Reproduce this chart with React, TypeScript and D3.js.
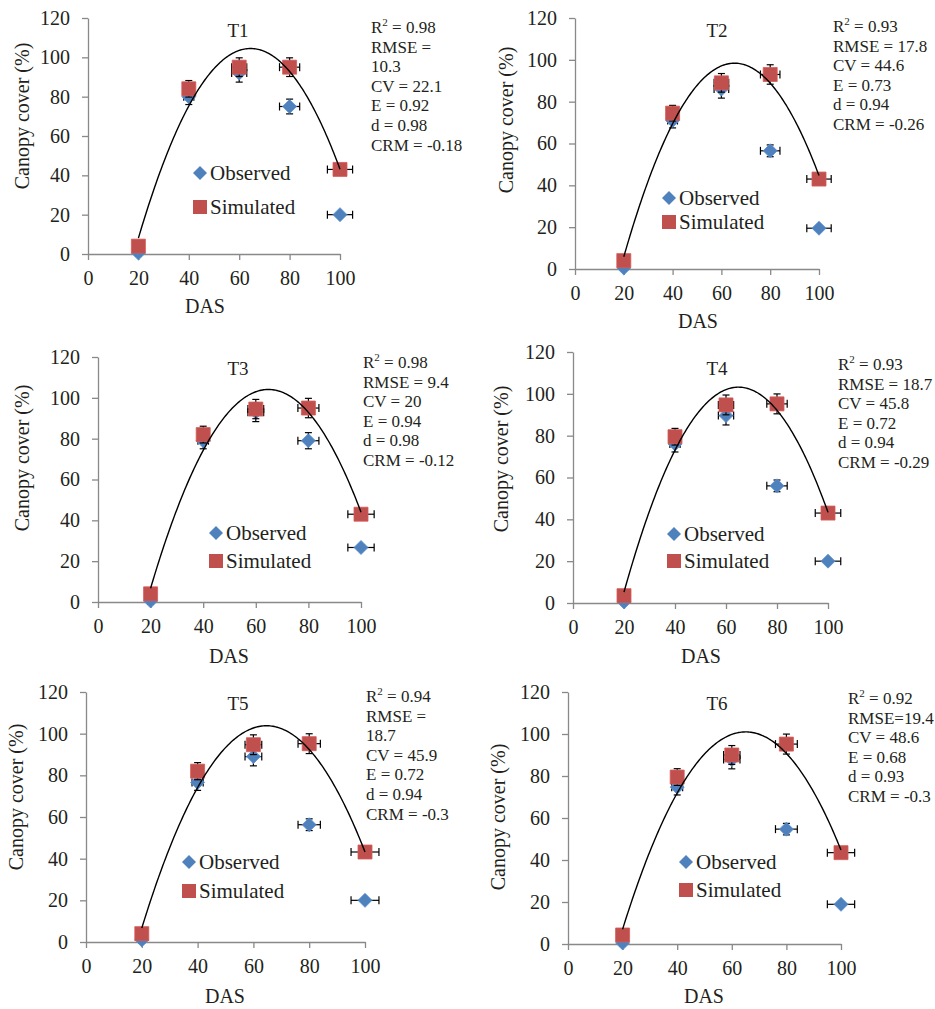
import { useEffect, useRef } from 'react'
import * as d3 from 'd3'

// days after sowing
const das = [20, 40, 60, 80, 100]
const panelNames = ['T1', 'T2', 'T3', 'T4', 'T5', 'T6']

const observedT1 = [0.5, 80, 92, 75, 20]
const observedT2 = [0.5, 71, 86, 56.5, 19.5]
const observedT3 = [0.5, 79, 93, 79, 26.7]
const observedT4 = [0.5, 76, 89.6, 56, 20]
const observedT5 = [1, 76.6, 89, 56.3, 20]
const observedT6 = [0.5, 74.7, 87.8, 54.7, 18.9]

const simulatedT1 = [4, 84, 95, 95, 43]
const simulatedT2 = [4, 74.5, 89, 93, 43]
const simulatedT3 = [4, 82, 94.5, 95, 43]
const simulatedT4 = [3.5, 79.5, 94.7, 95.2, 43]
const simulatedT5 = [4, 82, 94.7, 95.2, 43.2]
const simulatedT6 = [4.3, 79.5, 90, 95.2, 43.5]

// polynomial trend (vertex form)
const trendPeakX = [64.5, 65.4, 64.8, 64.9, 64.7, 65.1]
const trendPeakY = [104.5, 98.4, 104.1, 103.2, 103.8, 101]
const trendCurv = [-0.0487, -0.0449, -0.0485, -0.0486, -0.0486, -0.0462]

const statsT1 = ['R2| = 0.98', 'RMSE =', '10.3', 'CV = 22.1', 'E = 0.92', 'd = 0.98', 'CRM = -0.18']
const statsT2 = ['R2| = 0.93', 'RMSE = 17.8', 'CV = 44.6', 'E = 0.73', 'd = 0.94', 'CRM = -0.26']
const statsT3 = ['R2| = 0.98', 'RMSE = 9.4', 'CV = 20', 'E = 0.94', 'd = 0.98', 'CRM = -0.12']
const statsT4 = ['R2| = 0.93', 'RMSE = 18.7', 'CV = 45.8', 'E = 0.72', 'd = 0.94', 'CRM = -0.29']
const statsT5 = ['R2| = 0.94', 'RMSE =', '18.7', 'CV = 45.9', 'E = 0.72', 'd = 0.94', 'CRM = -0.3']
const statsT6 = ['R2| = 0.92', 'RMSE=19.4', 'CV = 48.6', 'E = 0.68', 'd = 0.93', 'CRM = -0.3']

const errorPercent = 5
const xTicks = [0, 20, 40, 60, 80, 100]
const yTicks = [0, 20, 40, 60, 80, 100, 120]

const observed = [observedT1, observedT2, observedT3, observedT4, observedT5, observedT6]
const simulated = [simulatedT1, simulatedT2, simulatedT3, simulatedT4, simulatedT5, simulatedT6]
const stats = [statsT1, statsT2, statsT3, statsT4, statsT5, statsT6]

// panel placement on the page
const frames = [
  { left: 88, right: 340, top: 18, bottom: 254, title: [238, 37], stats: [371, 33], legend: [200, 173, 207], yTitle: [29, 116], xTitle: [205, 313] },
  { left: 575, right: 819, top: 18, bottom: 269, title: [717, 37], stats: [833, 32], legend: [669, 198, 222], yTitle: [513, 120], xTitle: [698, 328] },
  { left: 98, right: 361, top: 357, bottom: 602, title: [238, 375], stats: [363, 368], legend: [216, 533, 561], yTitle: [29, 458], xTitle: [229, 663] },
  { left: 573, right: 828, top: 352, bottom: 603, title: [717, 375], stats: [838, 370], legend: [674, 534, 561], yTitle: [508, 459], xTitle: [701, 663] },
  { left: 86, right: 365, top: 692, bottom: 942, title: [238, 710], stats: [366, 702], legend: [189, 862, 891], yTitle: [23, 797], xTitle: [225, 1003] },
  { left: 568, right: 841, top: 692, bottom: 944, title: [717, 710], stats: [848, 704], legend: [686, 862, 890], yTitle: [505, 817], xTitle: [704, 1003] },
]

const FONT = 'Liberation Serif'
const BLUE = '#4F81BD'
const RED = '#C0504D'
const AXIS = '#898989'
const TEXT = '#231f20'

export default function App() {
  const svgRef = useRef<SVGSVGElement>(null)

  useEffect(() => {
    if (!svgRef.current) return
    const svg = d3.select(svgRef.current)
    svg.selectAll('*').remove()

    svg.append('rect').attr('width', 935).attr('height', 1009).attr('fill', '#fff')

    const diamond = d3.symbol(d3.symbolSquare, 98)()
    const square = d3.symbol(d3.symbolSquare, 196)()

    panelNames.forEach((name, i) => {
      const f = frames[i]
      const x = d3.scaleLinear().domain([0, 100]).range([f.left, f.right])
      const y = d3.scaleLinear().domain([0, 120]).range([f.bottom, f.top])
      const g = svg.append('g')

      // axes
      const yAxis = g.append('g')
        .attr('transform', `translate(${f.left},0)`)
        .call(d3.axisLeft(y).tickValues(yTicks).tickSize(6).tickSizeOuter(0).tickPadding(12))
      const xAxis = g.append('g')
        .attr('transform', `translate(0,${f.bottom})`)
        .call(d3.axisBottom(x).tickValues(xTicks).tickSize(6).tickSizeOuter(0).tickPadding(11))
      ;[yAxis, xAxis].forEach(a => {
        a.attr('font-family', FONT).attr('font-size', 20)
        a.select('.domain').attr('stroke', AXIS).attr('stroke-width', 1.3)
        a.selectAll('.tick line').attr('stroke', AXIS).attr('stroke-width', 1.3)
        a.selectAll('.tick text').attr('fill', TEXT)
      })

      // error bars + markers
      const series = [
        { values: observed[i], color: BLUE, shape: diamond, rotate: 45 },
        { values: simulated[i], color: RED, shape: square, rotate: 0 },
      ]
      series.forEach(s => {
        s.values.forEach((v, j) => {
          const d = das[j]
          const cx = x(d)
          const cy = y(v)
          const dy = v * errorPercent / 100
          const dx = d * errorPercent / 100
          const eb = g.append('g').attr('stroke', '#000').attr('stroke-width', 1.2)
          eb.append('line').attr('x1', cx).attr('x2', cx).attr('y1', y(v - dy)).attr('y2', y(v + dy))
          eb.append('line').attr('x1', cx - 3.5).attr('x2', cx + 3.5).attr('y1', y(v - dy)).attr('y2', y(v - dy))
          eb.append('line').attr('x1', cx - 3.5).attr('x2', cx + 3.5).attr('y1', y(v + dy)).attr('y2', y(v + dy))
          eb.append('line').attr('x1', x(d - dx)).attr('x2', x(d + dx)).attr('y1', cy).attr('y2', cy)
          eb.append('line').attr('x1', x(d - dx)).attr('x2', x(d - dx)).attr('y1', cy - 4).attr('y2', cy + 4)
          eb.append('line').attr('x1', x(d + dx)).attr('x2', x(d + dx)).attr('y1', cy - 4).attr('y2', cy + 4)
        })
        s.values.forEach((v, j) => {
          g.append('path')
            .attr('d', s.shape)
            .attr('transform', `translate(${x(das[j])},${y(v)}) rotate(${s.rotate})`)
            .attr('fill', s.color)
            .attr('stroke', d3.color(s.color)!.brighter(0.3).formatHex())
            .attr('stroke-width', 0.8)
        })
      })

      // trend line
      const line = d3.line<number>()
        .x(d => x(d))
        .y(d => y(trendPeakY[i] + trendCurv[i] * (d - trendPeakX[i]) ** 2))
      g.append('path')
        .datum(d3.range(20, 100.001, 0.5))
        .attr('d', line)
        .attr('fill', 'none')
        .attr('stroke', '#000')
        .attr('stroke-width', 1.4)

      // title
      g.append('text')
        .text(name)
        .attr('x', f.title[0])
        .attr('y', f.title[1])
        .attr('text-anchor', 'middle')
        .attr('font-size', 19)

      // stats
      stats[i].forEach((s, k) => {
        const t = g.append('text')
          .attr('x', f.stats[0])
          .attr('y', f.stats[1] + k * 19.6)
          .attr('font-size', 17)
        if (s.includes('|')) {
          const [base, rest] = s.split('|')
          t.append('tspan').text(base.slice(0, -1))
          t.append('tspan').text(base.slice(-1)).attr('font-size', 11).attr('dy', -7)
          t.append('tspan').text(rest).attr('dy', 7)
        } else {
          t.text(s)
        }
      })

      // legend
      const lg = g.append('g')
      lg.append('path').attr('d', diamond)
        .attr('transform', `translate(${f.legend[0]},${f.legend[1]}) rotate(45)`)
        .attr('fill', BLUE)
      lg.append('path').attr('d', square)
        .attr('transform', `translate(${f.legend[0]},${f.legend[2]})`)
        .attr('fill', RED)
      ;[['Observed', f.legend[1]], ['Simulated', f.legend[2]]].forEach(([label, ly]) => {
        lg.append('text')
          .text(label as string)
          .attr('x', f.legend[0] + 10)
          .attr('y', (ly as number) + 7)
          .attr('font-size', 21)
      })

      // axis titles
      g.append('text')
        .text('Canopy cover (%)')
        .attr('transform', `translate(${f.yTitle[0]},${f.yTitle[1]}) rotate(-90)`)
        .attr('text-anchor', 'middle')
        .attr('font-size', 20)
      g.append('text')
        .text('DAS')
        .attr('x', f.xTitle[0])
        .attr('y', f.xTitle[1])
        .attr('text-anchor', 'middle')
        .attr('font-size', 20)
    })
  }, [])

  return (
    <svg
      ref={svgRef}
      width={935}
      height={1009}
      fontFamily="Liberation Serif"
      fill={TEXT}
      style={{ position: 'absolute', left: 0, top: 0 }}
    ></svg>
  )
}
